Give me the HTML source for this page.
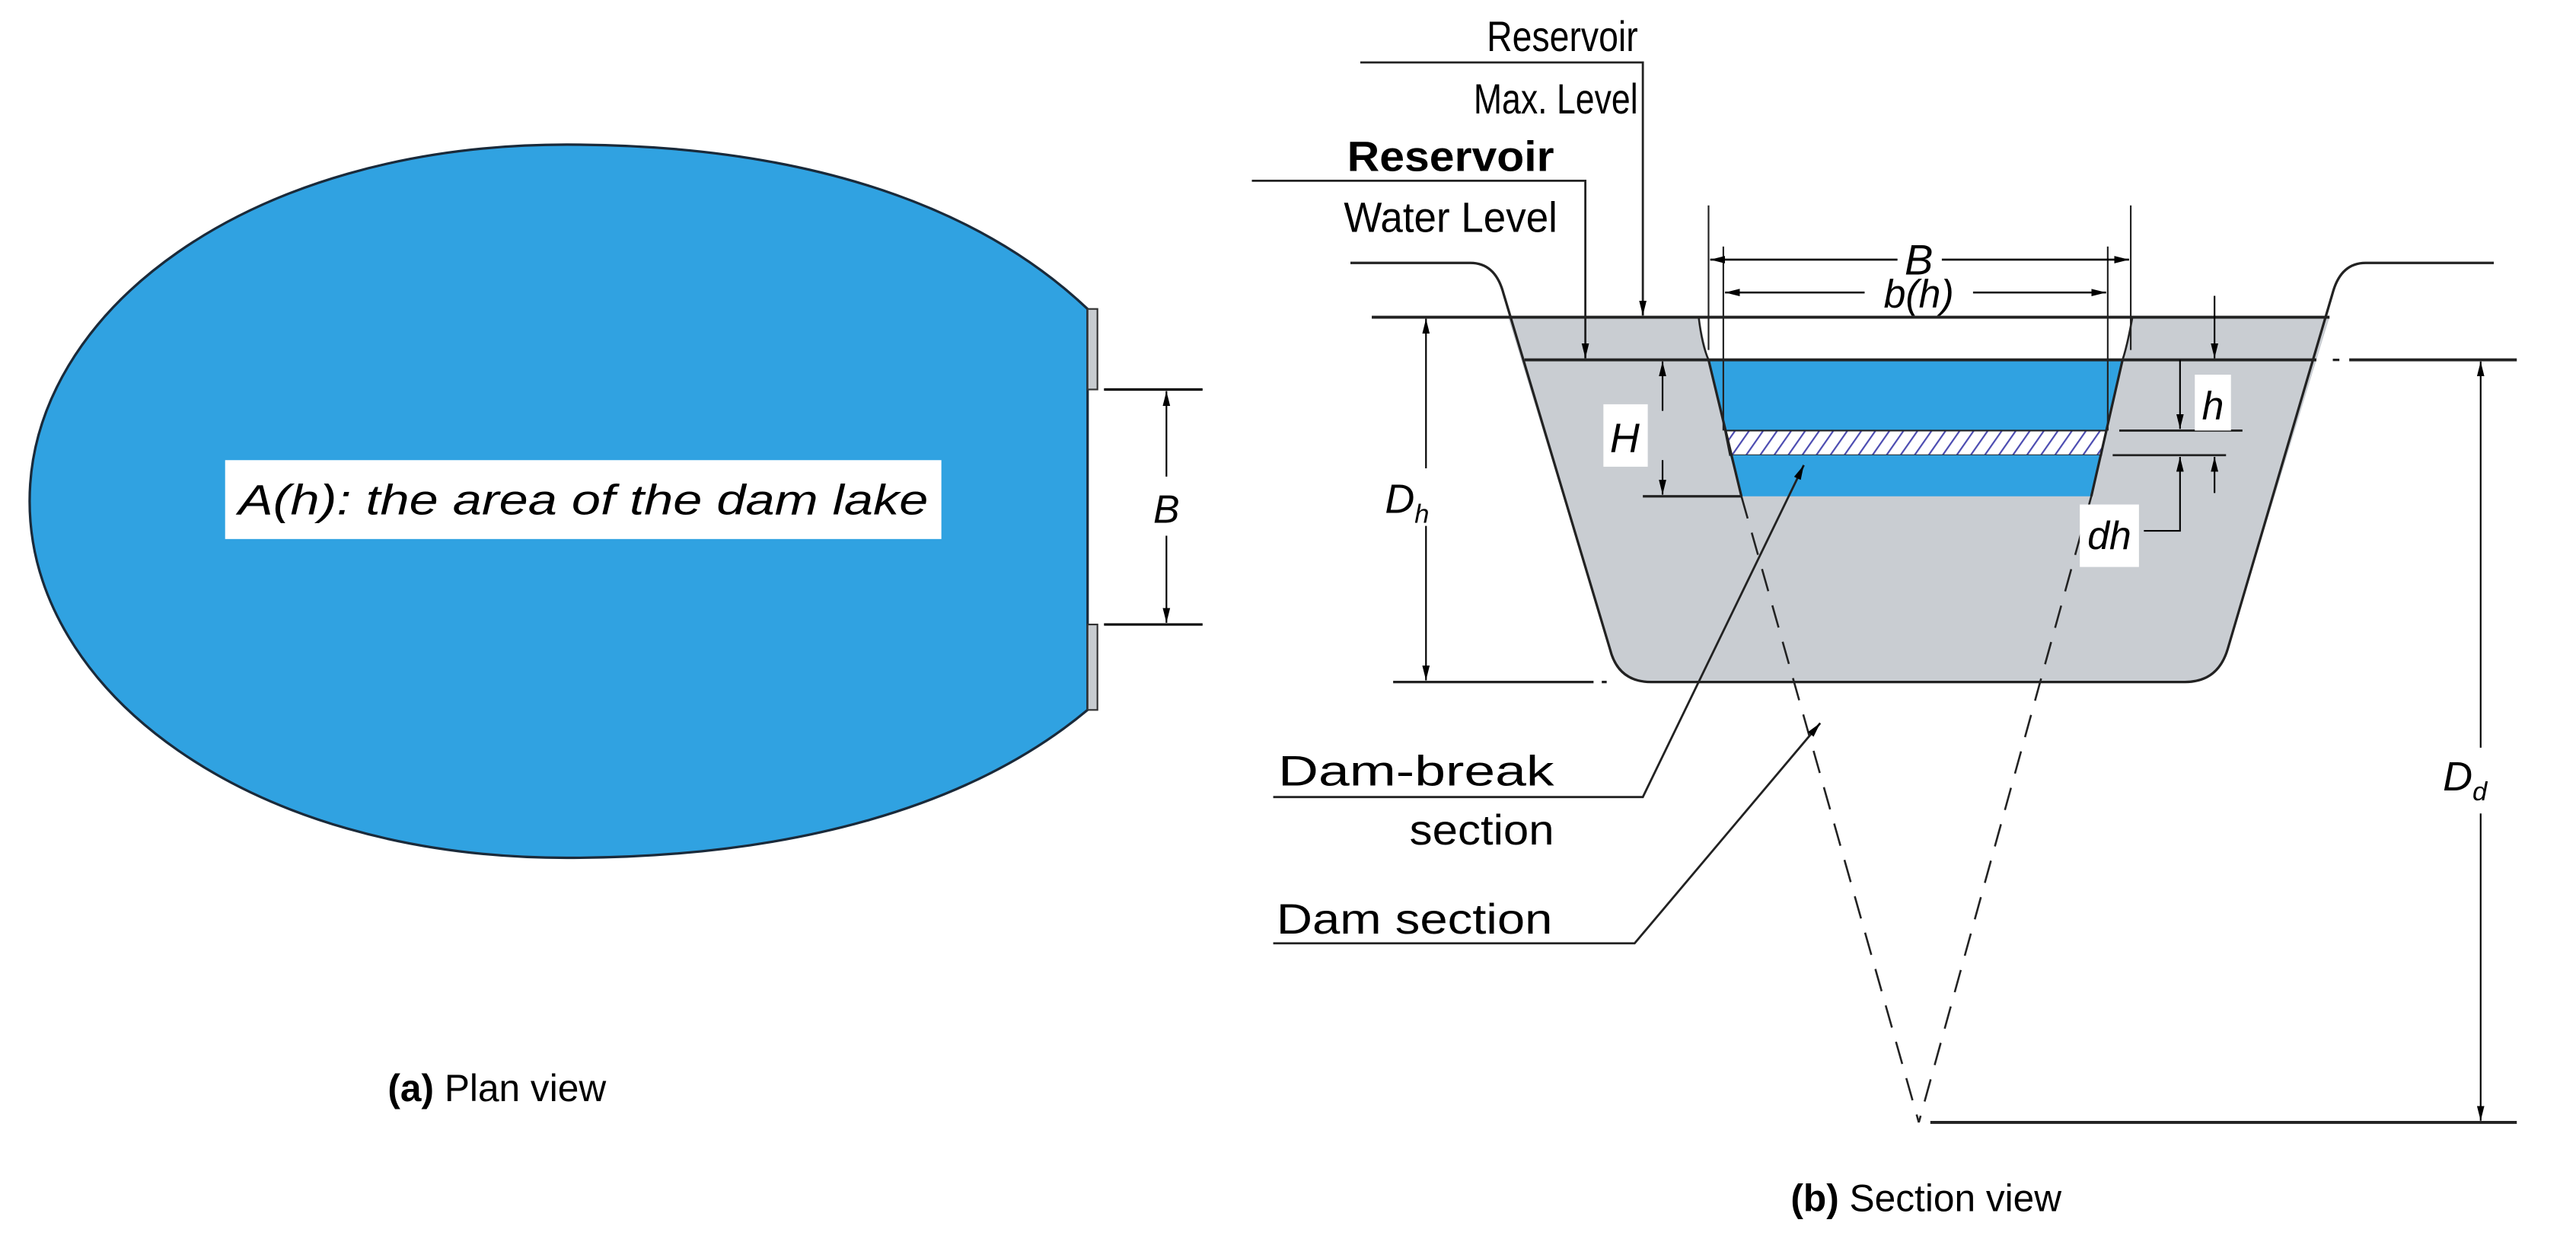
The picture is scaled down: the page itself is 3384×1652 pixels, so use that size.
<!DOCTYPE html>
<html><head><meta charset="utf-8"><style>html,body{margin:0;padding:0;background:#fff}svg{display:block}</style></head>
<body>
<svg width="3384" height="1652" viewBox="0 0 1568 765.5" xmlns="http://www.w3.org/2000/svg" font-family="Liberation Sans, sans-serif">
<defs>
<marker id="a" viewBox="0 0 10 10" refX="10" refY="5" markerWidth="9" markerHeight="9" markerUnits="userSpaceOnUse" orient="auto-start-reverse"><path d="M0,2.5 L10,5 L0,7.5 Z" fill="#000"/></marker>
<pattern id="hp" width="7" height="7" patternUnits="userSpaceOnUse" patternTransform="rotate(35)"><rect width="7" height="7" fill="#fff"/><line x1="0" y1="0" x2="0" y2="7" stroke="#4a4ab0" stroke-width="2"/></pattern>
</defs>
<!-- Plan view -->
<path d="M662,188 C590,120 480,88 345,88 C150,88 18,190 18,305 C18,420 150,522 345,522 C480,522 590,492 662,432 Z" fill="#30a2e1" stroke="#1a2a3a" stroke-width="1.5"/>
<rect x="662" y="188" width="6" height="49" fill="#c8ccd0" stroke="#333" stroke-width="1"/>
<rect x="662" y="380" width="6" height="52" fill="#c8ccd0" stroke="#333" stroke-width="1"/>
<line x1="672" y1="237" x2="732" y2="237" stroke="#000" stroke-width="1.5"/>
<line x1="672" y1="380" x2="732" y2="380" stroke="#000" stroke-width="1.5"/>
<line x1="710" y1="290" x2="710" y2="238" stroke="#000" stroke-width="1" marker-end="url(#a)"/>
<line x1="710" y1="326" x2="710" y2="379" stroke="#000" stroke-width="1" marker-end="url(#a)"/>
<text x="710" y="318" font-size="24" font-style="italic" text-anchor="middle">B</text>
<rect x="137" y="280" width="436" height="48" fill="#fff"/>
<text x="355" y="313" font-size="26" font-style="italic" text-anchor="middle" textLength="420" lengthAdjust="spacingAndGlyphs">A(h): the area of the dam lake</text>
<text x="236" y="670" font-size="23"><tspan font-weight="bold">(a)</tspan>  Plan view</text>

<!-- Section view: dam body -->
<path d="M918,193 L1418,193 L1356,395 Q1350,415 1330,415 L1005,415 Q985,415 980,395 Z" fill="#c9cdd2"/>
<path d="M822,160 L895,160 Q910,160 915,178 L980,395 Q985,415 1005,415 L1330,415 Q1350,415 1356,395 L1420,178 Q1425,160 1440,160 L1518,160" fill="none" stroke="#222" stroke-width="1.5"/>
<path d="M1034,193 L1298,193 L1292,219 L1040,219 Z" fill="#fff"/>
<path d="M1034,193 Q1036,210 1040,219 M1298,193 Q1295,210 1292,219" fill="none" stroke="#222" stroke-width="1.2"/>
<path d="M1040,219 L1292,219 L1282,262 L1050,262 Z" fill="#30a2e1"/>
<path d="M1050,262 L1282,262 L1279,277 L1053,277 Z" fill="url(#hp)" stroke="#222" stroke-width="1"/>
<path d="M1053,277 L1279,277 L1273,302 L1060,302 Z" fill="#30a2e1"/>
<line x1="1040" y1="219" x2="1060" y2="302" stroke="#222" stroke-width="1.5"/>
<line x1="1292" y1="219" x2="1273" y2="302" stroke="#222" stroke-width="1.5"/>
<line x1="1060" y1="302" x2="1168" y2="683" stroke="#222" stroke-width="1.2" stroke-dasharray="14,9"/>
<line x1="1273" y1="302" x2="1168" y2="683" stroke="#222" stroke-width="1.2" stroke-dasharray="14,9"/>
<line x1="835" y1="193" x2="1418" y2="193" stroke="#222" stroke-width="1.8"/>
<line x1="928" y1="219" x2="1410" y2="219" stroke="#222" stroke-width="1.8"/>
<line x1="1420" y1="219" x2="1424" y2="219" stroke="#222" stroke-width="1.5"/>
<line x1="1430" y1="219" x2="1532" y2="219" stroke="#222" stroke-width="1.8"/>
<line x1="1000" y1="302" x2="1060" y2="302" stroke="#222" stroke-width="1.5"/>
<line x1="848" y1="415" x2="970" y2="415" stroke="#222" stroke-width="1.5"/>
<line x1="975" y1="415" x2="978" y2="415" stroke="#222" stroke-width="1.5"/>
<line x1="1175" y1="683" x2="1532" y2="683" stroke="#222" stroke-width="1.8"/>
<!-- Dh -->
<line x1="868" y1="285" x2="868" y2="194" stroke="#000" stroke-width="1" marker-end="url(#a)"/>
<line x1="868" y1="320" x2="868" y2="414" stroke="#000" stroke-width="1" marker-end="url(#a)"/>
<text x="843" y="312" font-size="25" font-style="italic">D<tspan font-size="16" dy="6">h</tspan></text>
<!-- H -->
<line x1="1012" y1="250" x2="1012" y2="220" stroke="#000" stroke-width="1" marker-end="url(#a)"/>
<line x1="1012" y1="280" x2="1012" y2="301" stroke="#000" stroke-width="1" marker-end="url(#a)"/>
<rect x="976" y="246" width="27" height="38" fill="#fff"/>
<text x="989" y="275" font-size="25" font-style="italic" text-anchor="middle">H</text>
<!-- B, b(h) -->
<line x1="1040" y1="125" x2="1040" y2="213" stroke="#222" stroke-width="1"/>
<line x1="1297" y1="125" x2="1297" y2="213" stroke="#222" stroke-width="1"/>
<line x1="1049" y1="150" x2="1049" y2="262" stroke="#222" stroke-width="1"/>
<line x1="1283" y1="150" x2="1283" y2="262" stroke="#222" stroke-width="1"/>
<line x1="1155" y1="158" x2="1041" y2="158" stroke="#000" stroke-width="1.2" marker-end="url(#a)"/>
<line x1="1182" y1="158" x2="1296" y2="158" stroke="#000" stroke-width="1.2" marker-end="url(#a)"/>
<text x="1168" y="167" font-size="26" font-style="italic" text-anchor="middle">B</text>
<line x1="1135" y1="178" x2="1050" y2="178" stroke="#000" stroke-width="1.2" marker-end="url(#a)"/>
<line x1="1201" y1="178" x2="1282" y2="178" stroke="#000" stroke-width="1.2" marker-end="url(#a)"/>
<text x="1168" y="187" font-size="24" font-style="italic" text-anchor="middle">b(h)</text>
<!-- h, dh -->
<line x1="1348" y1="180" x2="1348" y2="218" stroke="#000" stroke-width="1" marker-end="url(#a)"/>
<line x1="1327" y1="219" x2="1327" y2="261" stroke="#000" stroke-width="1" marker-end="url(#a)"/>
<line x1="1290" y1="262" x2="1365" y2="262" stroke="#222" stroke-width="1.3"/>
<line x1="1286" y1="277" x2="1355" y2="277" stroke="#222" stroke-width="1.3"/>
<line x1="1348" y1="300" x2="1348" y2="278" stroke="#000" stroke-width="1" marker-end="url(#a)"/>
<path d="M1305,323 L1327,323 L1327,278" fill="none" stroke="#000" stroke-width="1" marker-end="url(#a)"/>
<rect x="1336" y="228" width="22" height="34" fill="#fff"/>
<text x="1347" y="255" font-size="24" font-style="italic" text-anchor="middle">h</text>
<rect x="1266" y="307" width="36" height="38" fill="#fff"/>
<text x="1284" y="334" font-size="24" font-style="italic" text-anchor="middle">dh</text>
<!-- Dd -->
<line x1="1510" y1="455" x2="1510" y2="220" stroke="#000" stroke-width="1" marker-end="url(#a)"/>
<line x1="1510" y1="495" x2="1510" y2="682" stroke="#000" stroke-width="1" marker-end="url(#a)"/>
<text x="1487" y="481" font-size="25" font-style="italic">D<tspan font-size="16" dy="6">d</tspan></text>
<!-- Labels -->
<text x="905" y="31" font-size="26" textLength="92" lengthAdjust="spacingAndGlyphs">Reservoir</text>
<path d="M828,38 L1000,38 L1000,192" fill="none" stroke="#222" stroke-width="1.3" marker-end="url(#a)"/>
<text x="897" y="69" font-size="26" textLength="100" lengthAdjust="spacingAndGlyphs">Max. Level</text>
<text x="820" y="104" font-size="26" font-weight="bold" textLength="126" lengthAdjust="spacingAndGlyphs">Reservoir</text>
<path d="M762,110 L965,110 L965,218" fill="none" stroke="#222" stroke-width="1.3" marker-end="url(#a)"/>
<text x="818" y="141" font-size="26" textLength="130" lengthAdjust="spacingAndGlyphs">Water Level</text>
<text x="778" y="478" font-size="26" textLength="168" lengthAdjust="spacingAndGlyphs">Dam-break</text>
<path d="M775,485 L1000,485 L1098,283" fill="none" stroke="#222" stroke-width="1.3" marker-end="url(#a)"/>
<text x="858" y="514" font-size="26" textLength="88" lengthAdjust="spacingAndGlyphs">section</text>
<text x="777" y="568" font-size="26" textLength="168" lengthAdjust="spacingAndGlyphs">Dam section</text>
<path d="M775,574 L995,574 L1108,440" fill="none" stroke="#222" stroke-width="1.3" marker-end="url(#a)"/>
<text x="1090" y="737" font-size="23"><tspan font-weight="bold">(b)</tspan> Section view</text>
</svg>
</body></html>
